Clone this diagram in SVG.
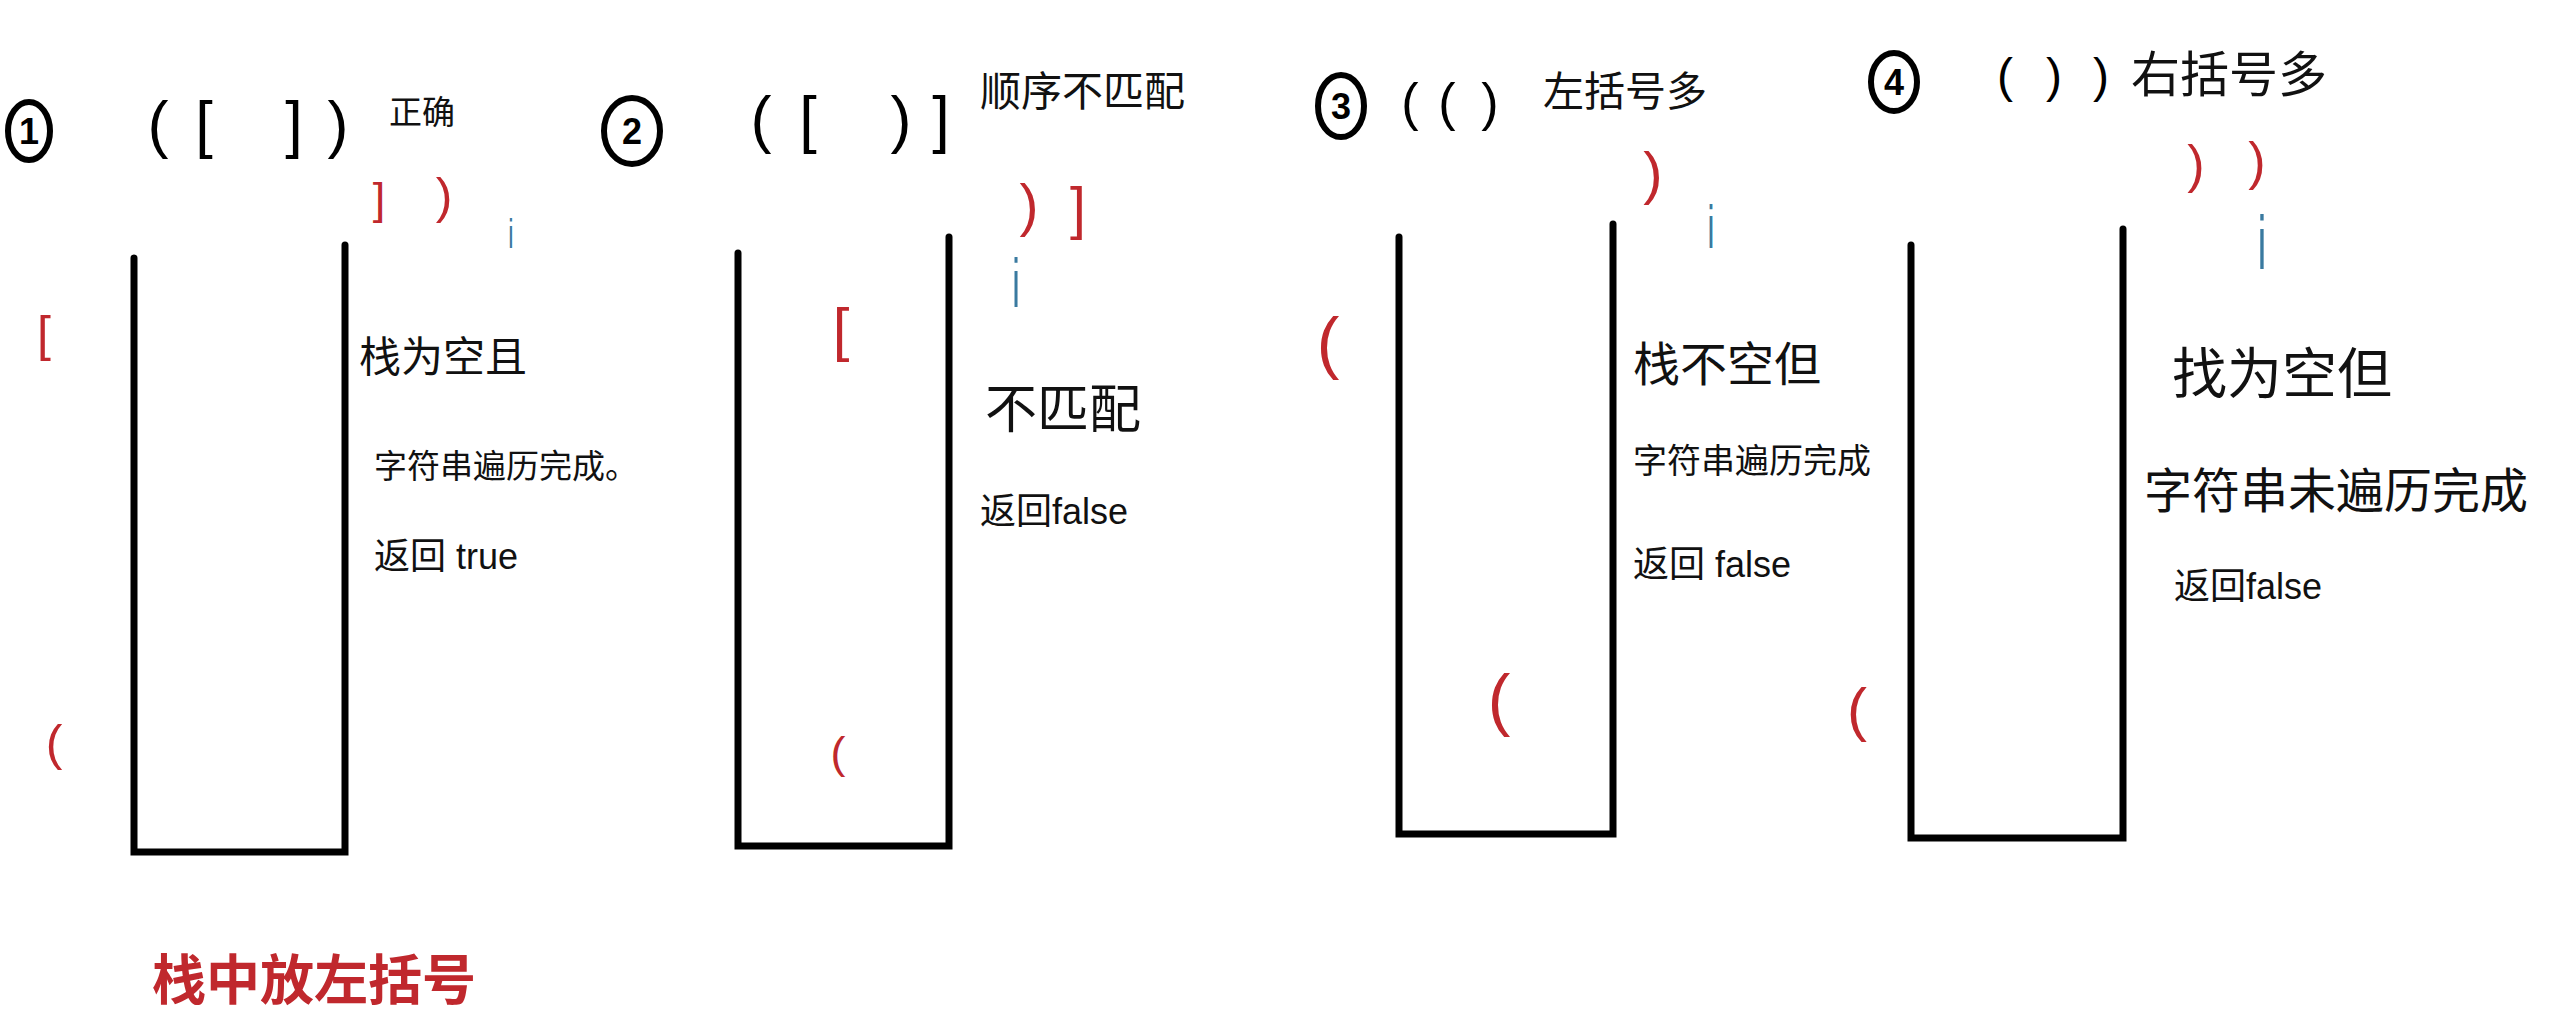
<svg xmlns="http://www.w3.org/2000/svg" width="2560" height="1027" viewBox="0 0 2560 1027">
<style>
.stack{fill:none;stroke:#000;stroke-width:7;stroke-linecap:round;stroke-linejoin:miter}
.num{fill:none;stroke:#000;stroke-width:6}
.digit{font-family:"Liberation Sans",sans-serif;font-size:36px;fill:#000;text-anchor:middle;font-weight:bold}
.br{font-family:"Liberation Sans",sans-serif;fill:#000;text-anchor:middle}
.red{fill:#c0282d}
.blue{font-family:"Liberation Sans",sans-serif;fill:#3a7aa0;text-anchor:middle}
.cn{font-family:"Liberation Sans","Noto Sans CJK SC",sans-serif;fill:#111}
.title{font-family:"Liberation Sans","Noto Sans CJK SC",sans-serif;fill:#c0282d;font-weight:bold}
</style>
<rect width="2560" height="1027" fill="#fff"/>

<g id="panel1">
  <ellipse class="num" cx="29" cy="131" rx="21" ry="29"/>
  <text class="digit" x="29" y="144">1</text>
  <g class="br" font-size="63">
    <text x="158" y="146">(</text><text x="204" y="146">[</text><text x="294" y="146">]</text><text x="338" y="146">)</text>
  </g>
  <text class="cn" x="389" y="124" font-size="33">正确</text>
  <text class="br red" x="379" y="214" font-size="45">]</text>
  <text class="br red" x="444" y="213" font-size="50">)</text>
  <text class="blue" transform="translate(511,248) scale(0.6,1)" font-size="40">i</text>
  <text class="br red" x="44" y="351" font-size="50">[</text>
  <text class="br red" x="54" y="760" font-size="50">(</text>
  <path id="stack1" class="stack" d="M134,258 L134,852 L345,852 L345,245"/>
  <text class="cn" x="359" y="372" font-size="42">栈为空且</text>
  <text class="cn" x="374" y="478" font-size="33">字符串遍历完成。</text>
  <text class="cn" x="374" y="569" font-size="36">返回 true</text>
  <text class="title" x="152" y="1000" font-size="54">栈中放左括号</text>
</g>

<g id="panel2">
  <ellipse class="num" cx="632" cy="131" rx="28" ry="33"/>
  <text class="digit" x="632" y="144">2</text>
  <g class="br" font-size="63">
    <text x="761" y="141">(</text><text x="808" y="141">[</text><text x="901" y="141">)</text><text x="941" y="141">]</text>
  </g>
  <text class="cn" x="980" y="106" font-size="41">顺序不匹配</text>
  <text class="br red" x="1029" y="225" font-size="57">)</text>
  <text class="br red" x="1078" y="228" font-size="57">]</text>
  <text class="blue" transform="translate(1016,307) scale(0.5,1)" font-size="68">i</text>
  <text class="br red" x="841" y="350" font-size="60">[</text>
  <text class="br red" x="838" y="768" font-size="45">(</text>
  <path id="stack2" class="stack" d="M738,253 L738,846 L949,846 L949,237"/>
  <text class="cn" x="985" y="428" font-size="52">不匹配</text>
  <text class="cn" x="980" y="524" font-size="36">返回false</text>
</g>

<g id="panel3">
  <ellipse class="num" cx="1341" cy="106" rx="23" ry="31"/>
  <text class="digit" x="1341" y="119">3</text>
  <g class="br" font-size="52">
    <text x="1410" y="120">(</text><text x="1447" y="120">(</text><text x="1490" y="120">)</text>
  </g>
  <text class="cn" x="1543" y="106" font-size="41">左括号多</text>
  <text class="br red" x="1653" y="193" font-size="58">)</text>
  <text class="blue" transform="translate(1711,248) scale(0.5,1)" font-size="62">i</text>
  <text class="br red" x="1328" y="366" font-size="68">(</text>
  <text class="br red" x="1499" y="723" font-size="68">(</text>
  <path id="stack3" class="stack" d="M1399,237 L1399,834 L1613,834 L1613,224"/>
  <text class="cn" x="1633" y="381" font-size="47">栈不空但</text>
  <text class="cn" x="1633" y="473" font-size="34">字符串遍历完成</text>
  <text class="cn" x="1633" y="577" font-size="36">返回 false</text>
</g>

<g id="panel4">
  <ellipse class="num" cx="1894" cy="82" rx="23" ry="29"/>
  <text class="digit" x="1894" y="95">4</text>
  <g class="br" font-size="48">
    <text x="2005" y="92">(</text><text x="2054" y="92">)</text><text x="2101" y="92">)</text>
  </g>
  <text class="cn" x="2131" y="92" font-size="49">右括号多</text>
  <text class="br red" x="2196" y="182" font-size="52">)</text>
  <text class="br red" x="2257" y="179" font-size="52">)</text>
  <text class="blue" transform="translate(2262,269) scale(0.5,1)" font-size="76">i</text>
  <text class="br red" x="1857" y="730" font-size="60">(</text>
  <path id="stack4" class="stack" d="M1911,245 L1911,838 L2123,838 L2123,229"/>
  <text class="cn" x="2172" y="393" font-size="55">找为空但</text>
  <text class="cn" x="2144" y="508" font-size="48">字符串未遍历完成</text>
  <text class="cn" x="2174" y="599" font-size="36">返回false</text>
</g>
</svg>
